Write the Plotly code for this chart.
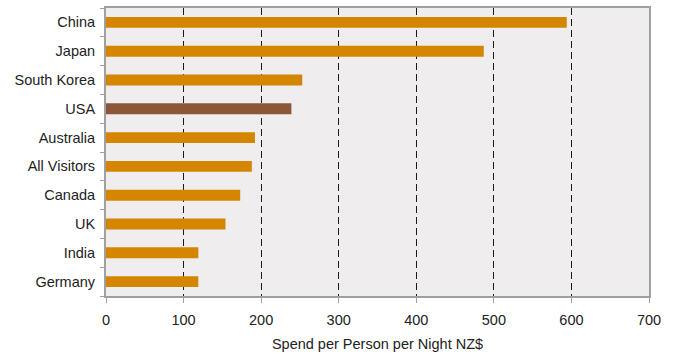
import plotly.graph_objects as go

# Spend per person per night by visitor origin (NZ$)
countries = ["China", "Japan", "South Korea", "USA", "Australia",
             "All Visitors", "Canada", "UK", "India", "Germany"]
spend = [594, 487, 253, 239, 192, 188, 173, 154, 119, 119]
highlight = "USA"

bar_colors = ["#8C5638" if c == highlight else "#D48600" for c in countries]

fig = go.Figure(
    go.Bar(
        x=spend,
        y=countries,
        orientation="h",
        marker=dict(color=bar_colors, line=dict(width=0)),
        width=0.38,
        hoverinfo="x+y",
    )
)

axis_grey = "#A0A0A0"
font_family = "Liberation Sans, Arial, sans-serif"
fsize = 14.5

fig.update_layout(
    width=676,
    height=356,
    margin=dict(l=106, r=27, t=8, b=60),
    paper_bgcolor="white",
    plot_bgcolor="#EFEDEE",
    showlegend=False,
    font=dict(family=font_family, size=fsize, color="#222222"),
    bargap=0.6,
    xaxis=dict(
        range=[0, 700],
        tickvals=[0, 100, 200, 300, 400, 500, 600, 700],
        showgrid=True,
        gridcolor="#1A1A1A",
        gridwidth=1,
        griddash="7px,4px",
        zeroline=False,
        showline=True,
        linecolor=axis_grey,
        linewidth=2,
        mirror=True,
        ticks="outside",
        ticklen=5,
        tickcolor=axis_grey,
        ticklabelstandoff=5,
        tickfont=dict(size=fsize, color="#222222"),
        automargin=False,
        title=dict(text="Spend per Person per Night NZ$",
                   font=dict(size=fsize, color="#222222"), standoff=11),
    ),
    yaxis=dict(
        categoryorder="array",
        categoryarray=countries[::-1],
        showgrid=False,
        zeroline=False,
        showline=True,
        linecolor=axis_grey,
        linewidth=2,
        mirror=True,
        ticks="outside",
        tickson="boundaries",
        ticklen=4,
        tickcolor=axis_grey,
        ticklabelstandoff=6,
        automargin=False,
        tickfont=dict(size=fsize, color="#222222"),
    ),
)

fig.write_html("out.html")
